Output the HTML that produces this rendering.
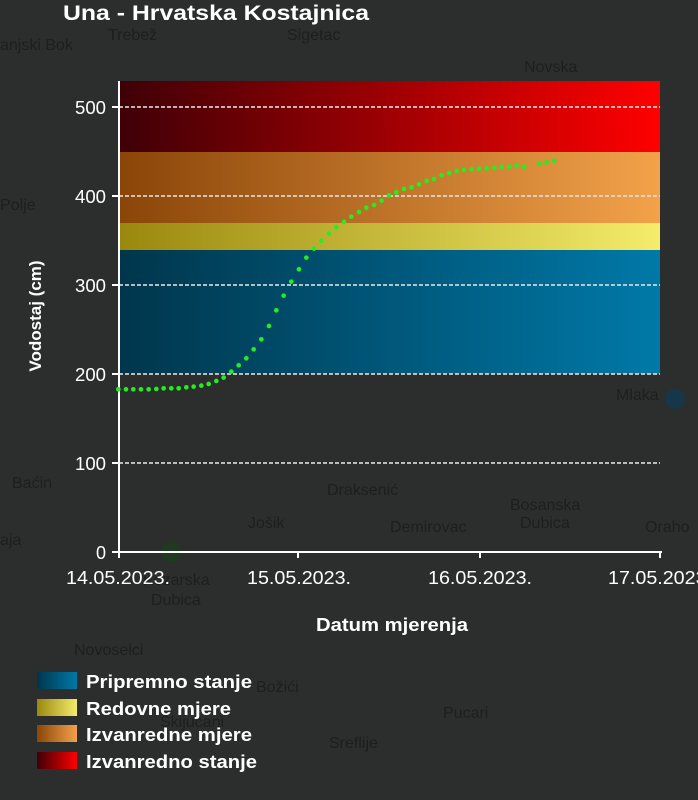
<!DOCTYPE html>
<html><head><meta charset="utf-8"><style>
html,body{margin:0;padding:0;background:#2b2e2c;}
svg{display:block;font-family:"Liberation Sans",Arial,sans-serif;}
</style></head><body>
<svg width="698" height="800" viewBox="0 0 698 800" xmlns="http://www.w3.org/2000/svg">
<defs>
<linearGradient id="gr" x1="0" x2="1"><stop offset="0" stop-color="#3e0006"/><stop offset="1" stop-color="#ff0000"/></linearGradient>
<linearGradient id="go" x1="0" x2="1"><stop offset="0" stop-color="#8a4508"/><stop offset="1" stop-color="#f3a24a"/></linearGradient>
<linearGradient id="gy" x1="0" x2="1"><stop offset="0" stop-color="#9a880e"/><stop offset="1" stop-color="#f4ec6a"/></linearGradient>
<linearGradient id="gb" x1="0" x2="1"><stop offset="0" stop-color="#00364c"/><stop offset="1" stop-color="#0079a8"/></linearGradient>
</defs>
<rect width="698" height="800" fill="#2b2e2c"/>
<g fill="#1c1f1d" font-size="16">
<text x="0" y="50">anjski Bok</text><text x="108" y="40">Trebež</text><text x="287" y="40">Sigetac</text>
<text x="524" y="72">Novska</text><text x="0" y="210">Polje</text><text x="616" y="400">Mlaka</text>
<text x="12" y="488">Baćin</text><text x="327" y="495">Draksenić</text><text x="510" y="510">Bosanska</text>
<text x="520" y="528">Dubica</text><text x="390" y="532">Demirovac</text><text x="248" y="528">Jošik</text>
<text x="645" y="532">Oraho</text><text x="0" y="545">aja</text><text x="143" y="585">Kozarska</text>
<text x="151" y="605">Dubica</text><text x="74" y="655">Novoselci</text><text x="256" y="692">Božići</text>
<text x="443" y="718">Pucari</text><text x="329" y="748">Sreflije</text><text x="160" y="727">Skijucani</text>
</g>
<circle cx="675" cy="399" r="10" fill="#16374a"/>
<circle cx="171" cy="552" r="10" fill="#1f3a1f"/>
<rect x="119" y="81" width="541" height="71" fill="url(#gr)"/>
<rect x="119" y="152" width="541" height="71" fill="url(#go)"/>
<rect x="119" y="223" width="541" height="27" fill="url(#gy)"/>
<rect x="119" y="250" width="541" height="124" fill="url(#gb)"/>
<g stroke="#e0e0e0" stroke-width="2" stroke-dasharray="4,2" opacity="0.8">
<line x1="119" x2="660" y1="107" y2="107"/><line x1="119" x2="660" y1="196" y2="196"/>
<line x1="119" x2="660" y1="285" y2="285"/><line x1="119" x2="660" y1="374" y2="374"/>
<line x1="119" x2="660" y1="463" y2="463"/>
</g>
<g stroke="#ffffff" stroke-width="2">
<line x1="119" y1="81" x2="119" y2="553"/><line x1="118" y1="552" x2="662" y2="552"/>
<line x1="112" x2="119" y1="107" y2="107"/><line x1="112" x2="119" y1="196" y2="196"/>
<line x1="112" x2="119" y1="285" y2="285"/><line x1="112" x2="119" y1="374" y2="374"/>
<line x1="112" x2="119" y1="463" y2="463"/><line x1="112" x2="119" y1="552" y2="552"/>
<line x1="298" x2="298" y1="552" y2="558"/><line x1="480" x2="480" y1="552" y2="558"/><line x1="660" x2="660" y1="552" y2="558"/><line x1="119" x2="119" y1="552" y2="558"/>
</g>
<g fill="#ffffff" font-size="18" text-anchor="end">
<text x="106" y="114" textLength="31" lengthAdjust="spacingAndGlyphs">500</text><text x="106" y="203" textLength="31" lengthAdjust="spacingAndGlyphs">400</text><text x="106" y="292" textLength="31" lengthAdjust="spacingAndGlyphs">300</text>
<text x="106" y="381" textLength="31" lengthAdjust="spacingAndGlyphs">200</text><text x="106" y="470" textLength="31" lengthAdjust="spacingAndGlyphs">100</text><text x="106" y="559">0</text>
</g>
<g fill="#ffffff" font-size="18">
<text x="66" y="584" textLength="104" lengthAdjust="spacingAndGlyphs">14.05.2023.</text><text x="247" y="584" textLength="104" lengthAdjust="spacingAndGlyphs">15.05.2023.</text>
<text x="428" y="584" textLength="104" lengthAdjust="spacingAndGlyphs">16.05.2023.</text><text x="608" y="584" textLength="104" lengthAdjust="spacingAndGlyphs">17.05.2023.</text>
</g>
<text x="316" y="631" fill="#fff" font-size="18" font-weight="bold" textLength="152" lengthAdjust="spacingAndGlyphs">Datum mjerenja</text>
<text transform="translate(41,316) rotate(-90)" fill="#fff" font-size="17" font-weight="bold" text-anchor="middle">Vodostaj (cm)</text>
<text x="63" y="20" fill="#fff" font-size="21" font-weight="bold" textLength="306" lengthAdjust="spacingAndGlyphs">Una - Hrvatska Kostajnica</text>
<g transform="translate(100,140) scale(0.3333)" fill="#22ee22">
<circle cx="55" cy="748" r="7"/><circle cx="78" cy="748" r="7"/><circle cx="100" cy="748" r="7"/><circle cx="123" cy="748" r="7"/><circle cx="146" cy="748" r="7"/><circle cx="169" cy="747" r="7"/><circle cx="191" cy="745" r="7"/><circle cx="214" cy="745" r="7"/><circle cx="236" cy="745" r="7"/><circle cx="259" cy="742" r="7"/><circle cx="281" cy="740" r="7"/><circle cx="304" cy="737" r="7"/><circle cx="326" cy="732" r="7"/><circle cx="349" cy="723" r="7"/><circle cx="371" cy="713" r="7"/><circle cx="394" cy="695" r="7"/><circle cx="416" cy="676" r="7"/><circle cx="439" cy="655" r="7"/><circle cx="461" cy="628" r="7"/><circle cx="484" cy="598" r="7"/><circle cx="507" cy="558" r="7"/><circle cx="529" cy="511" r="7"/><circle cx="551" cy="467" r="7"/><circle cx="574" cy="425" r="7"/><circle cx="597" cy="388" r="7"/><circle cx="619" cy="353" r="7"/><circle cx="642" cy="326" r="7"/><circle cx="664" cy="302" r="7"/><circle cx="687" cy="281" r="7"/><circle cx="709" cy="262" r="7"/><circle cx="732" cy="245" r="7"/><circle cx="754" cy="230" r="7"/><circle cx="777" cy="216" r="7"/><circle cx="799" cy="203" r="7"/><circle cx="822" cy="195" r="7"/><circle cx="845" cy="182" r="7"/><circle cx="867" cy="166" r="7"/><circle cx="889" cy="157" r="7"/><circle cx="912" cy="147" r="7"/><circle cx="935" cy="142" r="7"/><circle cx="957" cy="133" r="7"/><circle cx="980" cy="123" r="7"/><circle cx="1002" cy="117" r="7"/><circle cx="1025" cy="106" r="7"/><circle cx="1047" cy="99" r="7"/><circle cx="1070" cy="93" r="7"/><circle cx="1092" cy="90" r="7"/><circle cx="1115" cy="88" r="7"/><circle cx="1137" cy="86" r="7"/><circle cx="1160" cy="85" r="7"/><circle cx="1183" cy="83" r="7"/><circle cx="1205" cy="80" r="7"/><circle cx="1228" cy="80" r="7"/><circle cx="1250" cy="77" r="7"/><circle cx="1273" cy="80" r="7"/><circle cx="1318" cy="70" r="7"/><circle cx="1340" cy="67" r="7"/><circle cx="1363" cy="62" r="7"/>
</g>
<rect x="37" y="672" width="40" height="17" fill="url(#gb)"/>
<rect x="37" y="699" width="40" height="17" fill="url(#gy)"/>
<rect x="37" y="725" width="40" height="17" fill="url(#go)"/>
<rect x="37" y="752" width="40" height="17" fill="url(#gr)"/>
<g fill="#fff" font-size="18" font-weight="bold">
<text x="86" y="688" textLength="166" lengthAdjust="spacingAndGlyphs">Pripremno stanje</text><text x="86" y="715" textLength="145" lengthAdjust="spacingAndGlyphs">Redovne mjere</text>
<text x="86" y="741" textLength="166" lengthAdjust="spacingAndGlyphs">Izvanredne mjere</text><text x="86" y="768" textLength="171" lengthAdjust="spacingAndGlyphs">Izvanredno stanje</text>
</g>
</svg>
</body></html>
